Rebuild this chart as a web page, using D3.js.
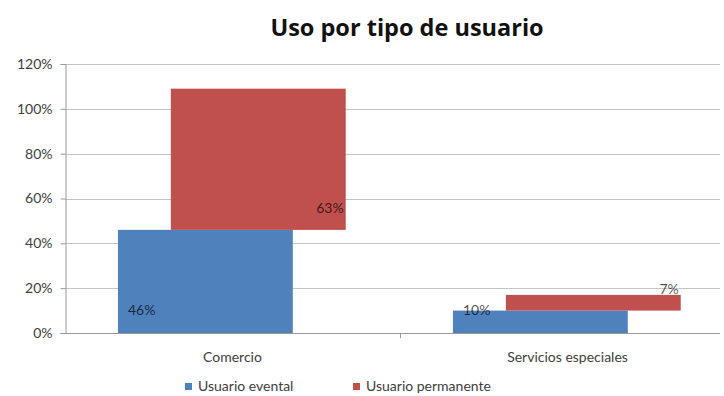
<!DOCTYPE html>
<html>
<head>
<meta charset="utf-8">
<script src="https://cdn.jsdelivr.net/npm/d3@7"></script>
<style>
  html, body { margin: 0; padding: 0; background: #fff; }
  svg { display: block; font-family: Lato, "Open Sans", sans-serif; }
</style>
</head>
<body>
<svg id="chart" width="724" height="396"></svg>
<script>
// Chart data
const title = "Uso por tipo de usuario";
const categories = ["Comercio", "Servicios especiales"];
const seriesNames = ["Usuario evental", "Usuario permanente"];
const evental = [0.46, 0.10];
const permanente = [0.63, 0.07];
const yTicks = [0, 0.2, 0.4, 0.6, 0.8, 1.0, 1.2];
const colors = ["#4F81BD", "#C0504D"];

const svg = d3.select("#chart");
const plotLeft = 65, plotRight = 735, plotTop = 64, plotBottom = 333, gridRight = 720;

const x = d3.scaleBand().domain(categories).range([plotLeft, plotRight]).padding(0);
const y = d3.scaleLinear().domain([0, 1.2]).range([plotBottom, plotTop]);
const bw = x.bandwidth();
const barW = bw * 0.522;
const offBlue = bw * 0.158;
const offRed = bw * 0.316;

// Title
svg.append("text")
  .attr("x", 407).attr("y", 36)
  .attr("text-anchor", "middle")
  .attr("font-family", "'Open Sans', sans-serif")
  .attr("font-size", 23.5).attr("font-weight", 700)
  .attr("fill", "#111")
  .text(title);

// Horizontal gridlines
svg.append("g").selectAll("line").data(yTicks.filter(d => d > 0)).join("line")
  .attr("x1", plotLeft).attr("x2", gridRight)
  .attr("y1", d => Math.round(y(d)) + 0.5).attr("y2", d => Math.round(y(d)) + 0.5)
  .attr("stroke", "#c4c4c4").attr("stroke-width", 1);

// Y axis
const yAxis = svg.append("g")
  .attr("transform", `translate(${plotLeft + 0.5},0)`)
  .call(d3.axisLeft(y).tickValues(yTicks).tickFormat(d3.format(".0%")).tickSize(5).tickPadding(8));
yAxis.select(".domain").attr("stroke", "#9a9a9a");
yAxis.selectAll(".tick line").attr("stroke", "#9a9a9a");
yAxis.selectAll(".tick text").attr("font-size", 14).attr("fill", "#404040")
  .attr("font-family", "Lato, sans-serif");

// Bars: eventual users at the base, permanent users stacked above with an offset
const g = svg.append("g");
g.selectAll("rect.ev").data(categories).join("rect")
  .attr("class", "ev")
  .attr("x", d => x(d) + offBlue)
  .attr("width", barW)
  .attr("y", (d, i) => y(evental[i]))
  .attr("height", (d, i) => y(0) - y(evental[i]))
  .attr("fill", colors[0]);
g.selectAll("rect.pe").data(categories).join("rect")
  .attr("class", "pe")
  .attr("x", d => x(d) + offRed)
  .attr("width", barW)
  .attr("y", (d, i) => y(evental[i] + permanente[i]))
  .attr("height", (d, i) => y(evental[i]) - y(evental[i] + permanente[i]))
  .attr("fill", colors[1]);

// X axis baseline and category separator ticks
svg.append("line")
  .attr("x1", plotLeft).attr("x2", gridRight)
  .attr("y1", plotBottom + 0.5).attr("y2", plotBottom + 0.5)
  .attr("stroke", "#9a9a9a");
svg.append("g").selectAll("line").data(categories.slice(1)).join("line")
  .attr("x1", d => Math.round(x(d)) + 0.5).attr("x2", d => Math.round(x(d)) + 0.5)
  .attr("y1", plotBottom).attr("y2", plotBottom + 5)
  .attr("stroke", "#9a9a9a");

// Category labels
svg.append("g").selectAll("text").data(categories).join("text")
  .attr("x", d => x(d) + bw / 2)
  .attr("y", 362)
  .attr("text-anchor", "middle")
  .attr("font-size", 14).attr("fill", "#404040")
  .text(d => d);

// Data labels
const fmt = d3.format(".0%");
const lbl = svg.append("g").attr("font-size", 14).attr("fill", "#000").attr("fill-opacity", 0.7);
lbl.selectAll("text.ev").data(categories).join("text")
  .attr("class", "ev")
  .attr("x", d => x(d) + offBlue + 10)
  .attr("y", y(0) - 18)
  .text((d, i) => fmt(evental[i]));
lbl.selectAll("text.pe").data(categories).join("text")
  .attr("class", "pe")
  .attr("x", d => x(d) + offRed + barW - 2)
  .attr("y", (d, i) => y(evental[i]) - 17)
  .attr("text-anchor", "end")
  .text((d, i) => fmt(permanente[i]));

// Legend
const legendX = [185, 353];
const leg = svg.append("g").selectAll("g").data(seriesNames).join("g")
  .attr("transform", (d, i) => `translate(${legendX[i]},383)`);
leg.append("rect").attr("width", 7).attr("height", 7).attr("fill", (d, i) => colors[i]);
leg.append("text").attr("x", 13).attr("y", 8)
  .attr("font-size", 14).attr("fill", "#404040")
  .text(d => d);
</script>
</body>
</html>
